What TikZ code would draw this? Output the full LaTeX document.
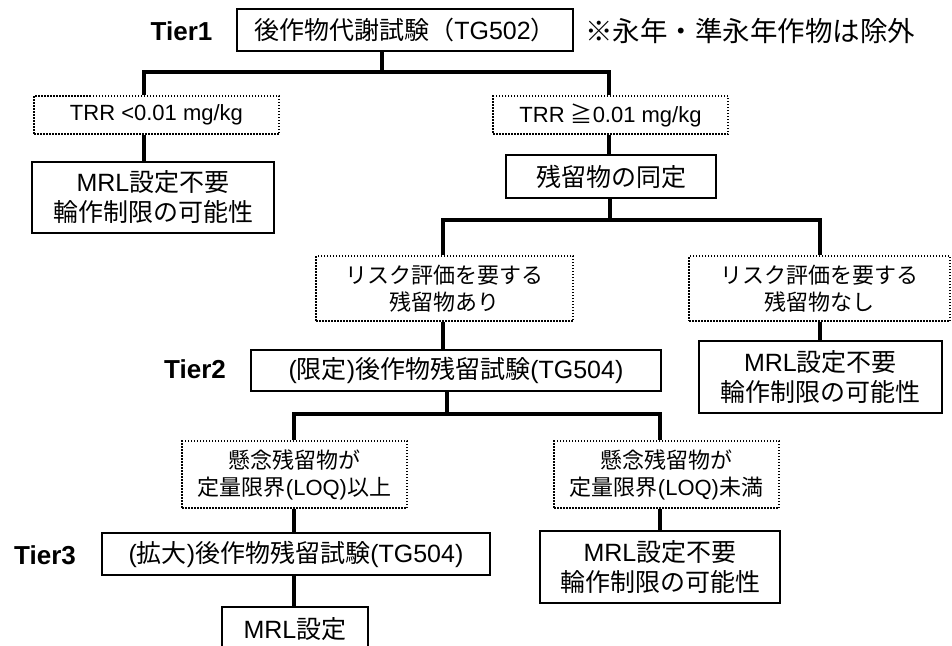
\documentclass[tikz,border=0pt]{standalone}
\usepackage{fontspec}
\setmainfont{Liberation Sans}
\newfontfamily\jpf{Noto Sans CJK JP}
\newcommand\J[1]{{\jpf #1}}
\begin{document}
\begin{tikzpicture}[x=1pt,y=-1pt,
  mainbox/.style={draw, line width=2pt, align=center, inner sep=0pt, font=\fontsize{25}{30}\selectfont},
  dotbox/.style={draw, line width=1.5pt, dash pattern=on 1.5pt off 1.5pt, align=center, inner sep=0pt, font=\fontsize{22}{27}\selectfont},
  tierlabel/.style={font=\bfseries\fontsize{26}{30}\selectfont, inner sep=0pt},
  conn/.style={line width=3.2pt}]
\useasboundingbox (0,0) rectangle (952,645);

% nodes
\node[tierlabel] (tier1) at (181.5,31) {Tier1};
\node[mainbox, minimum width=336pt, minimum height=42pt] (t1) at (405,30) {\J{後作物代謝試験（}TG502\J{）}};
\node[anchor=west, inner sep=0pt, font=\fontsize{27.5}{31}\selectfont] (note) at (585,31) {\J{※永年・準永年作物は除外}};

\node[dotbox, minimum width=245pt, minimum height=38pt] (d1) at (156.5,115) {TRR <0.01 mg/kg};
\node[mainbox, minimum width=242pt, minimum height=71pt] (m1) at (153,197.5) {MRL\J{設定不要}\\\J{輪作制限の可能性}};
\node[dotbox, minimum width=235pt, minimum height=38pt] (d2) at (610.5,115) {TRR \J{≧}0.01 mg/kg};
\node[mainbox, minimum width=210pt, minimum height=43pt] (r) at (611,176.5) {\J{残留物の同定}};

\node[dotbox, minimum width=257pt, minimum height=65pt] (d3) at (444.5,288.5) {\J{リスク評価を要する}\\\J{残留物あり}};
\node[dotbox, minimum width=261pt, minimum height=65pt] (d4) at (819.5,288.5) {\J{リスク評価を要する}\\\J{残留物なし}};

\node[tierlabel] (tier2) at (195,369) {Tier2};
\node[mainbox, minimum width=410pt, minimum height=41pt] (t2) at (456,370.5) {(\J{限定})\J{後作物残留試験}(TG504)};
\node[mainbox, minimum width=243pt, minimum height=72pt] (m2) at (820.5,377) {MRL\J{設定不要}\\\J{輪作制限の可能性}};

\node[dotbox, minimum width=225pt, minimum height=67pt] (d5) at (294.5,474.5) {\J{懸念残留物が}\\\J{定量限界}(LOQ)\J{以上}};
\node[dotbox, minimum width=225pt, minimum height=67pt] (d6) at (666.5,474.5) {\J{懸念残留物が}\\\J{定量限界}(LOQ)\J{未満}};

\node[tierlabel] (tier3) at (45,555) {Tier3};
\node[mainbox, minimum width=388pt, minimum height=42pt] (t3) at (296,554) {(\J{拡大})\J{後作物残留試験}(TG504)};
\node[mainbox, minimum width=240pt, minimum height=72pt] (m3) at (660,567) {MRL\J{設定不要}\\\J{輪作制限の可能性}};
\node[mainbox, minimum width=146pt, minimum height=44pt] (m4) at (295,629) {MRL\J{設定}};

% branch coordinates
\coordinate (b1) at (382,72);
\coordinate (bL1) at (144,72);
\coordinate (bR1) at (609,72);
\coordinate (b2) at (610,220);
\coordinate (bL2) at (443,220);
\coordinate (bR2) at (820,220);
\coordinate (b3) at (447,414);
\coordinate (bL3) at (294,414);
\coordinate (bR3) at (660,414);

% connectors
\draw[conn] (t1.south -| b1) -- (b1);
\draw[conn] (d1.north -| bL1) -- (bL1) -- (bR1) -- (d2.north -| bR1);
\draw[conn] (d1.south -| bL1) -- (m1.north -| bL1);
\draw[conn] (d2.south -| bR1) -- (r.north -| bR1);

\draw[conn] (r.south -| b2) -- (b2);
\draw[conn] (d3.north -| bL2) -- (bL2) -- (bR2) -- (d4.north -| bR2);
\draw[conn] (d3.south -| bL2) -- (t2.north -| bL2);
\draw[conn] (d4.south -| bR2) -- (m2.north -| bR2);

\draw[conn] (t2.south -| b3) -- (b3);
\draw[conn] (d5.north -| bL3) -- (bL3) -- (bR3) -- (d6.north -| bR3);
\draw[conn] (d5.south -| bL3) -- (t3.north -| bL3);
\draw[conn] (d6.south -| bR3) -- (m3.north -| bR3);
\draw[conn] (t3.south -| bL3) -- (m4.north -| bL3);
\end{tikzpicture}
\end{document}
